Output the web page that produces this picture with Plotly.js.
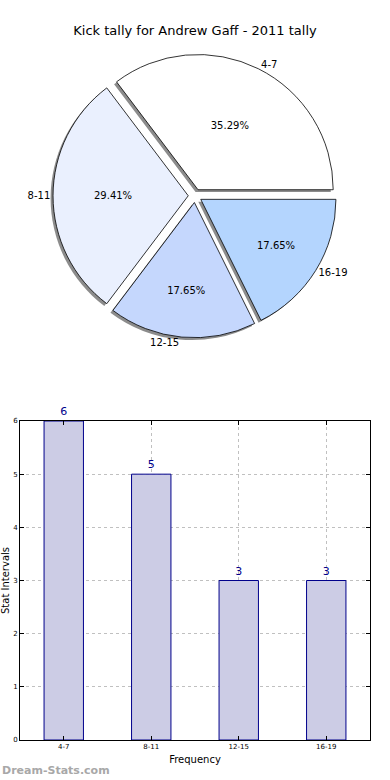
<!DOCTYPE html>
<html>
<head>
<meta charset="utf-8">
<script src="https://cdn.plot.ly/plotly-3.0.1.min.js"></script>
<style>html,body{margin:0;padding:0;background:#fff;}#chart{width:390px;height:780px;}</style>
</head>
<body>
<div id="chart"></div>
<script>
const categories = ["4-7", "8-11", "12-15", "16-19"];
const counts = [6, 5, 3, 3];
const sliceColors = ["#ffffff", "#eaf0fe", "#c5d7fd", "#b4d5fe"];
const titleText = "Kick tally for Andrew Gaff - 2011 tally";
const yTicks = [0, 1, 2, 3, 4, 5, 6];

const FONT = "DejaVu Sans, sans-serif";
const total = counts.reduce((a, b) => a + b, 0);
// first slice starts at 3 o'clock and runs counterclockwise
const rot = 90 - counts[0] / total * 360;
const pieDomX = [0.02, 0.98];
const pieDomY = [0.567, 0.931];
const sdx = -0.007, sdy = 0.003;
const pulls = [0.05, 0.05, 0.05, 0.05];

const shadow = {
  type: "pie", labels: categories, values: counts, sort: false,
  direction: "counterclockwise", rotation: rot, pull: pulls,
  marker: {colors: categories.map(() => "#8c8c8c"), line: {width: 0}},
  domain: {x: [pieDomX[0] + sdx, pieDomX[1] + sdx], y: [pieDomY[0] - sdy, pieDomY[1] - sdy]},
  textinfo: "none", hoverinfo: "skip", showlegend: false
};
const pie = {
  type: "pie", labels: categories, values: counts, sort: false,
  direction: "counterclockwise", rotation: rot, pull: pulls,
  marker: {colors: sliceColors, line: {color: "#000", width: 0.8}},
  domain: {x: pieDomX, y: pieDomY},
  texttemplate: "%{percent:.2%}", textposition: "inside", insidetextorientation: "horizontal",
  insidetextfont: {family: FONT, size: 10, color: "#000"},
  showlegend: false
};
const labelsTrace = {
  type: "pie", labels: categories, values: counts, sort: false,
  direction: "counterclockwise", rotation: rot, pull: pulls,
  marker: {colors: categories.map(() => "rgba(0,0,0,0)"), line: {width: 0}},
  domain: {x: pieDomX, y: pieDomY},
  texttemplate: "%{label}", textposition: "outside",
  outsidetextfont: {family: FONT, size: 10, color: "#000"},
  hoverinfo: "skip", showlegend: false
};
const bars = {
  type: "bar", x: categories, y: counts, width: 0.45,
  marker: {color: "#ccccE5", line: {color: "#00008b", width: 1}},
  text: counts.map(String), textposition: "outside", cliponaxis: false,
  textfont: {family: FONT, size: 11, color: "#00008b"},
  xaxis: "x", yaxis: "y", showlegend: false
};

const layout = {
  width: 390, height: 780,
  margin: {l: 20, r: 20, t: 0, b: 0},
  paper_bgcolor: "#fff", plot_bgcolor: "#fff",
  font: {family: FONT, color: "#000"},
  title: {text: titleText, font: {family: FONT, size: 13, color: "#000"}, x: 0.5, xanchor: "center", y: 1 - 30/780, yanchor: "middle"},
  xaxis: {
    domain: [0, 1], range: [-0.5, 3.5], type: "category",
    showline: true, linecolor: "#000", linewidth: 1, mirror: "ticks",
    ticks: "inside", ticklen: 4, tickcolor: "#000",
    tickfont: {family: FONT, size: 7, color: "#000"},
    showgrid: true, gridcolor: "#c0c0c0", griddash: "dot", gridwidth: 1,
    title: {text: "Frequency", font: {family: FONT, size: 10, color: "#000"}, standoff: 5},
    zeroline: false, fixedrange: true
  },
  yaxis: {
    domain: [1 - 740/780, 1 - 421/780], range: [0, 6],
    tickvals: yTicks,
    showline: true, linecolor: "#000", linewidth: 1, mirror: "ticks",
    ticks: "inside", ticklen: 4, tickcolor: "#000",
    tickfont: {family: FONT, size: 7, color: "#000"},
    showgrid: true, gridcolor: "#c0c0c0", griddash: "dot", gridwidth: 1,
    title: {text: "Stat Intervals", font: {family: FONT, size: 10, color: "#000"}, standoff: 2},
    zeroline: false, automargin: false, fixedrange: true
  },
  annotations: [{
    text: "<b>Dream-Stats.com</b>", xref: "paper", yref: "paper",
    x: -20/350, y: 1 - 770/780, xanchor: "left", yanchor: "middle",
    showarrow: false, font: {family: FONT, size: 11, color: "#a8a8a8"}
  }]
};

Plotly.newPlot("chart", [shadow, pie, labelsTrace, bars], layout, {displayModeBar: false, staticPlot: true});
</script>
</body>
</html>
